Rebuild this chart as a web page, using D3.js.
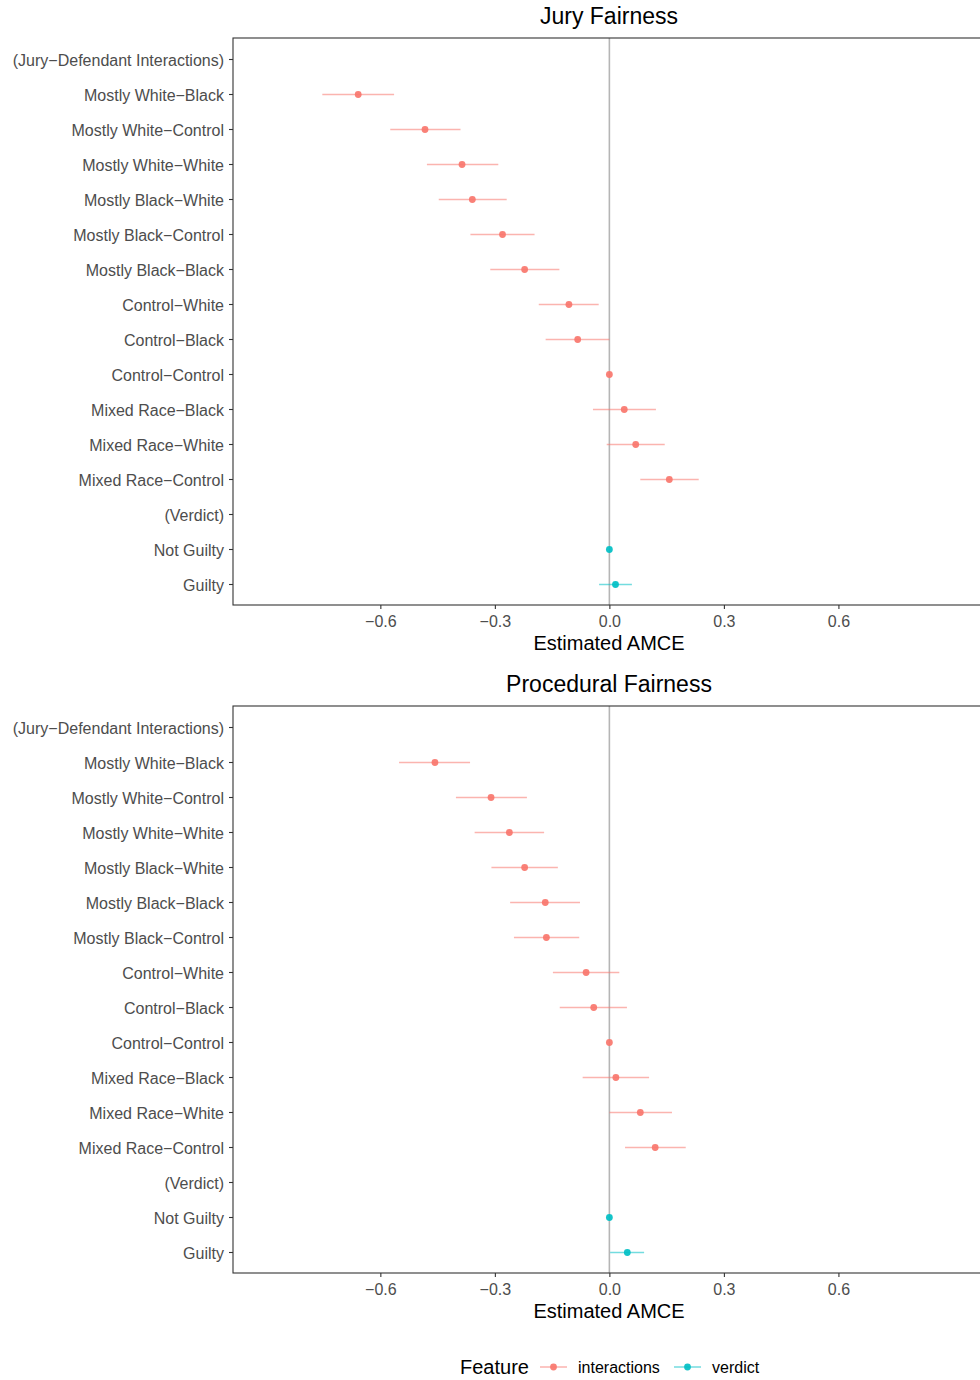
<!DOCTYPE html>
<html>
<head>
<meta charset="utf-8">
<script src="https://cdn.jsdelivr.net/npm/d3@7"></script>
<style>
  html, body { margin: 0; padding: 0; background: #fff; }
  svg { display: block; font-family: "Liberation Sans", Arial, Helvetica, sans-serif; }
</style>
</head>
<body>
<svg id="chart" width="980" height="1380"></svg>
<script>
// Row labels, top to bottom; group headers carry no estimate
const rowLabels = [
  "(Jury−Defendant Interactions)",
  "Mostly White−Black", "Mostly White−Control", "Mostly White−White",
  "Mostly Black−White", "Mostly Black−Control", "Mostly Black−Black",
  "Control−White", "Control−Black", "Control−Control",
  "Mixed Race−Black", "Mixed Race−White", "Mixed Race−Control",
  "(Verdict)", "Not Guilty", "Guilty"
];
const rowLabelsProc = [
  "(Jury−Defendant Interactions)",
  "Mostly White−Black", "Mostly White−Control", "Mostly White−White",
  "Mostly Black−White", "Mostly Black−Black", "Mostly Black−Control",
  "Control−White", "Control−Black", "Control−Control",
  "Mixed Race−Black", "Mixed Race−White", "Mixed Race−Control",
  "(Verdict)", "Not Guilty", "Guilty"
];
const rowFeature = [null, "interactions", "interactions", "interactions", "interactions",
  "interactions", "interactions", "interactions", "interactions", "interactions",
  "interactions", "interactions", "interactions", null, "verdict", "verdict"];

// Jury Fairness: estimate, lower and upper 95% bounds
const juryEst   = [null, -0.658, -0.483, -0.386, -0.359, -0.280, -0.222, -0.106, -0.083, 0, 0.039, 0.069, 0.157, null, 0, 0.016];
const juryLower = [null, -0.752, -0.574, -0.478, -0.447, -0.364, -0.312, -0.185, -0.167, 0, -0.043, -0.007, 0.081, null, 0, -0.027];
const juryUpper = [null, -0.564, -0.390, -0.291, -0.269, -0.196, -0.131, -0.028, 0.000, 0, 0.122, 0.145, 0.234, null, 0, 0.059];

// Procedural Fairness
const procEst   = [null, -0.457, -0.310, -0.262, -0.222, -0.168, -0.165, -0.061, -0.041, 0, 0.017, 0.081, 0.120, null, 0, 0.047];
const procLower = [null, -0.551, -0.402, -0.353, -0.309, -0.260, -0.250, -0.148, -0.130, 0, -0.070, 0.000, 0.041, null, 0, 0.002];
const procUpper = [null, -0.365, -0.216, -0.171, -0.135, -0.077, -0.079, 0.026, 0.046, 0, 0.104, 0.164, 0.200, null, 0, 0.091];

const xTicks = [-0.6, -0.3, 0.0, 0.3, 0.6];
const featureNames = ["interactions", "verdict"];
const featureColors = ["#F8766D", "#00BFC4"];

const svg = d3.select("#chart");
const color = d3.scaleOrdinal().domain(featureNames).range(featureColors);
const fmtTick = v => (v < 0 ? "−" : "") + Math.abs(v).toFixed(1);

const left = 233, right = 985;
const x = d3.scaleLinear().domain([-0.986, 0.984]).range([left, right]);

function drawPanel(title, top, bottom, labels, est, lower, upper) {
  const g = svg.append("g");
  const y = d3.scalePoint().domain(labels).range([top, bottom]).padding(0.6);

  // Title
  g.append("text")
    .attr("x", (left + right) / 2).attr("y", top - 14)
    .attr("text-anchor", "middle")
    .attr("font-size", 23).attr("fill", "#000")
    .text(title);

  // Zero reference line
  g.append("line")
    .attr("x1", x(0)).attr("x2", x(0))
    .attr("y1", top).attr("y2", bottom)
    .attr("stroke", "#b5b5b5").attr("stroke-width", 1.6);

  const rows = labels.map((lab, i) => ({
    label: lab, feature: rowFeature[i], est: est[i], lo: lower[i], hi: upper[i]
  })).filter(d => d.est !== null);

  // Confidence intervals
  g.selectAll("line.ci").data(rows).join("line")
    .attr("class", "ci")
    .attr("x1", d => x(d.lo)).attr("x2", d => x(d.hi))
    .attr("y1", d => y(d.label) + 0.5).attr("y2", d => y(d.label) + 0.5)
    .attr("stroke", d => color(d.feature))
    .attr("stroke-opacity", 0.55)
    .attr("stroke-width", 1.5);

  // Point estimates
  g.selectAll("circle.pt").data(rows).join("circle")
    .attr("class", "pt")
    .attr("cx", d => x(d.est)).attr("cy", d => y(d.label) + 0.5)
    .attr("r", 3.4)
    .attr("fill", d => color(d.feature))
    .attr("fill-opacity", 0.92);

  // Panel border
  g.append("rect")
    .attr("x", left).attr("y", top)
    .attr("width", right - left).attr("height", bottom - top)
    .attr("fill", "none").attr("stroke", "#333").attr("stroke-width", 1.1);

  // Y axis
  const yAxis = g.append("g").attr("transform", `translate(${left},0)`)
    .call(d3.axisLeft(y).tickSize(4).tickPadding(5));
  yAxis.select(".domain").remove();
  yAxis.selectAll(".tick line").attr("stroke", "#333").attr("stroke-width", 1.1);
  yAxis.selectAll(".tick text").attr("font-size", 16).attr("fill", "#4d4d4d")
    .attr("dy", "0.4em")
    .attr("font-family", "'Liberation Sans', Arial, sans-serif");

  // X axis
  const xAxis = g.append("g").attr("transform", `translate(0,${bottom})`)
    .call(d3.axisBottom(x).tickValues(xTicks).tickFormat(fmtTick).tickSize(4).tickPadding(7));
  xAxis.select(".domain").remove();
  xAxis.selectAll(".tick line").attr("stroke", "#333").attr("stroke-width", 1.1);
  xAxis.selectAll(".tick text").attr("font-size", 16).attr("fill", "#4d4d4d")
    .attr("font-family", "'Liberation Sans', Arial, sans-serif");

  g.append("text")
    .attr("x", (left + right) / 2).attr("y", bottom + 45)
    .attr("text-anchor", "middle")
    .attr("font-size", 20).attr("fill", "#000")
    .text("Estimated AMCE");
}

drawPanel("Jury Fairness", 38, 605, rowLabels, juryEst, juryLower, juryUpper);
drawPanel("Procedural Fairness", 706, 1273, rowLabelsProc, procEst, procLower, procUpper);

// Legend
const legend = svg.append("g").attr("transform", "translate(460,1367)");
legend.append("text").attr("x", 0).attr("y", 7)
  .attr("font-size", 20).attr("fill", "#000").text("Feature");
const keyX = [80, 214];
featureNames.forEach((f, i) => {
  const k = legend.append("g").attr("transform", `translate(${keyX[i]},0)`);
  k.append("line").attr("x1", 0).attr("x2", 27).attr("y1", 0).attr("y2", 0)
    .attr("stroke", color(f)).attr("stroke-opacity", 0.55).attr("stroke-width", 1.5);
  k.append("circle").attr("cx", 13.5).attr("cy", 0).attr("r", 3.4)
    .attr("fill", color(f)).attr("fill-opacity", 0.92);
  k.append("text").attr("x", 38).attr("y", 6)
    .attr("font-size", 16).attr("fill", "#000").text(f);
});
</script>
</body>
</html>
